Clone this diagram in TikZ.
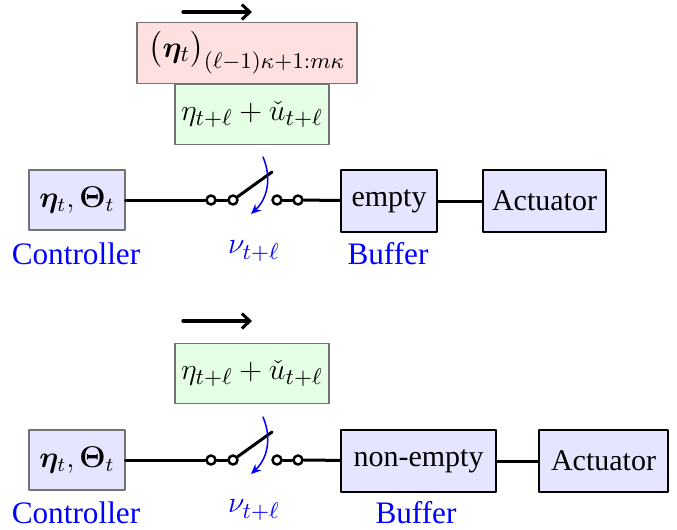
\documentclass[tikz,border=0pt]{standalone}
\usepackage{amsmath}
\usepackage{bm}
\usepackage{fontspec}
\setmainfont{Liberation Serif}
\usetikzlibrary{arrows.meta}

\begin{document}
\begin{tikzpicture}[
  x=0.4pt, y=-0.4pt,
  line cap=round,
  line join=round,
  font=\fontsize{12}{14}\selectfont,
  agent/.style={
    draw=black!55,
    line width=0.5pt,
    fill=blue!10,
    minimum width=38.4pt,
    minimum height=24pt,
    inner sep=2pt
  },
  unit/.style={
    draw=black,
    line width=1pt,
    fill=blue!10,
    minimum height=24.8pt,
    inner sep=2pt
  },
  packet/.style={
    draw=black!55,
    line width=0.5pt,
    minimum height=24.2pt,
    inner sep=1pt,
    font=\fontsize{12.5}{15}\selectfont
  },
  pin/.style={
    circle,
    draw=black,
    line width=1pt,
    fill=white,
    minimum size=3.6pt,
    inner sep=0pt
  },
  wire/.style={
    line width=1.2pt,
    draw=black
  },
  tag/.style={
    text=blue,
    font=\fontsize{12.5}{14}\selectfont
  },
  flow/.style={
    -{Straight Barb[length=3.2pt,width=6pt,line width=1.2pt]},
    line width=1.3pt
  },
  turn/.style={
    -{Stealth[length=4pt,width=3.5pt]},
    line width=0.6pt,
    draw=blue
  }
]
\useasboundingbox (0,0) rectangle (677,529);

% ------------------------------------------------
% Buffer empty
% ------------------------------------------------
\coordinate (dirA) at (183,12);
\coordinate (dirB) at (252,12);
\draw[flow] (dirA) -- (dirB);

\node[packet, fill=red!12, minimum width=88pt] (blockA) at (247,53)
{$\bigl(\bm{\eta}_t\bigr)_{(\ell-1)\kappa+1:m\kappa}$};

\node[packet, fill=green!10, minimum width=61.6pt] (sampleA) at (252,114.5)
{$\eta_{t+\ell}+\check{u}_{t+\ell}$};

\node[agent] (ctrlA) at (77,200) {$\bm{\eta}_t,\bm{\Theta}_t$};

\node[pin] (pA1) at (211,200) {};
\node[pin] (pA2) at (233,200) {};
\node[pin] (pA3) at (277,200) {};
\node[pin] (pA4) at (298,200) {};
\coordinate (bladeA) at (272,172);

\node[unit, minimum width=38.4pt] (bufA) at (389,201) {empty};
\node[unit, minimum width=49.2pt] (actA) at (544.5,201) {Actuator};

\draw[wire] (ctrlA) -- (pA1);
\draw[wire] (pA1) -- (pA2);
\draw[wire] (pA2) -- (bladeA);
\draw[wire] (pA3) -- (pA4);
\draw[wire] (pA4) -- (bufA);
\draw[wire] (bufA) -- (actA);

% switching arrow
\coordinate (turnA1) at (263,157);
\coordinate (turnA2) at (251,214);
\draw[turn] (turnA1) to[bend left=35] (turnA2);

\node[tag] (ctrlTagA) at (76,254) {Controller};
\node[tag] (nuA) at (254,251) {$\nu_{t+\ell}$};
\node[tag] (bufTagA) at (388,254) {Buffer};

% ------------------------------------------------
% Buffer non-empty
% ------------------------------------------------
\coordinate (dirC) at (183,321);
\coordinate (dirD) at (252,321);
\draw[flow] (dirC) -- (dirD);

\node[packet, fill=green!10, minimum width=61.6pt] (sampleB) at (252,373.5)
{$\eta_{t+\ell}+\check{u}_{t+\ell}$};

\node[agent] (ctrlB) at (77,460) {$\bm{\eta}_t,\bm{\Theta}_t$};

\node[pin] (pB1) at (211,460) {};
\node[pin] (pB2) at (233,460) {};
\node[pin] (pB3) at (277,460) {};
\node[pin] (pB4) at (298,460) {};
\coordinate (bladeB) at (272,432);

\node[unit, minimum width=62pt] (bufB) at (418.5,461) {non-empty};
\node[unit, minimum width=51.6pt] (actB) at (603.5,461) {Actuator};

\draw[wire] (ctrlB) -- (pB1);
\draw[wire] (pB1) -- (pB2);
\draw[wire] (pB2) -- (bladeB);
\draw[wire] (pB3) -- (pB4);
\draw[wire] (pB4) -- (bufB);
\draw[wire] (bufB) -- (actB);

% switching arrow
\coordinate (turnB1) at (263,417);
\coordinate (turnB2) at (251,474);
\draw[turn] (turnB1) to[bend left=35] (turnB2);

\node[tag] (ctrlTagB) at (76,513) {Controller};
\node[tag] (nuB) at (254,510) {$\nu_{t+\ell}$};
\node[tag] (bufTagB) at (416,513) {Buffer};

\end{tikzpicture}
\end{document}
